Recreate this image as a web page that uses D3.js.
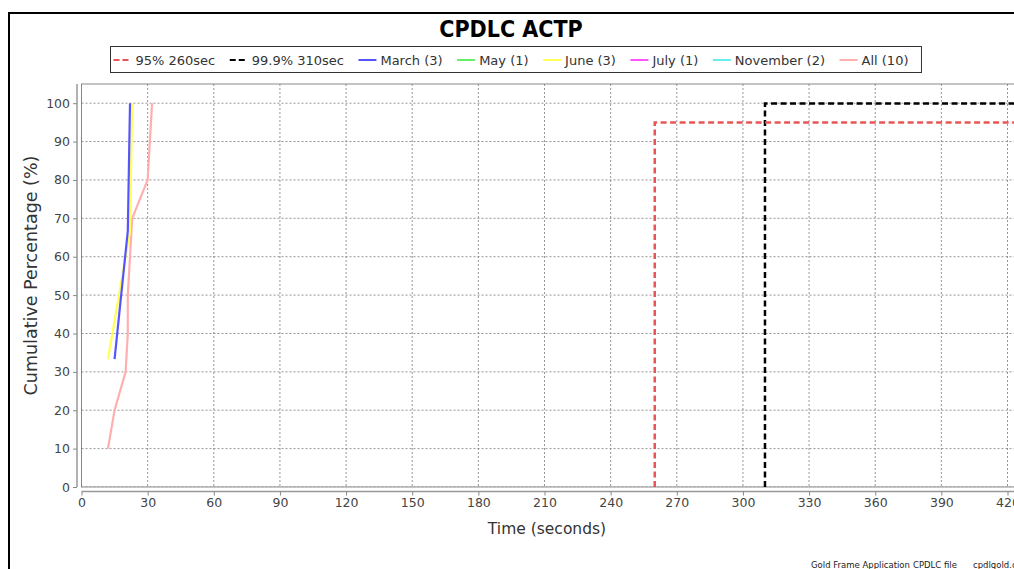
<!DOCTYPE html>
<html>
<head>
<meta charset="utf-8">
<script src="https://cdn.jsdelivr.net/npm/d3@7/dist/d3.min.js"></script>
<style>
  html, body { margin: 0; padding: 0; background: #ffffff; }
  svg { display: block; }
  text { font-family: "DejaVu Sans", sans-serif; }
</style>
</head>
<body>
<svg id="chart" width="1014" height="569"></svg>
<script>
// ---- data ----
const chartTitle = "CPDLC ACTP";
const xAxisTitle = "Time (seconds)";
const yAxisTitle = "Cumulative Percentage (%)";
const footerParts = ["Gold Frame Application", "CPDLC file", "cpdlgold.csv"];

const xTicks = [0, 30, 60, 90, 120, 150, 180, 210, 240, 270, 300, 330, 360, 390, 420];
const yTicks = [0, 10, 20, 30, 40, 50, 60, 70, 80, 90, 100];

// requirement thresholds: time limit (s) and percentage that must be met
const thresholdNames = ["95% 260sec", "99.9% 310sec"];
const thresholdTimes = [260, 310];
const thresholdPct = [95, 99.9];
const thresholdColors = ["#e85555", "#000000"];

// monthly cumulative distributions (seconds, cumulative %)
const seriesNames = ["March (3)", "May (1)", "June (3)", "July (1)", "November (2)", "All (10)"];
const seriesColors = ["#5555ff", "#66ee66", "#ffff55", "#ff55ff", "#66eeee", "#ffafaf"];
const marchTimes = [15, 21, 22];
const marchPct = [33.3, 66.7, 100];
const mayTimes = [22];
const mayPct = [100];
const juneTimes = [12, 22, 23];
const junePct = [33.3, 66.7, 100];
const julyTimes = [21];
const julyPct = [100];
const novemberTimes = [];
const novemberPct = [];
const allTimes = [12, 15, 20, 21, 21, 22, 23, 30, 31, 32];
const allPct = [10, 20, 30, 40, 50, 60, 70, 80, 90, 100];

const xMax = 430;   // horizontal extent of the axis
const yMax = 105;

// ---- layout ----
const svg = d3.select("#chart");
const W = 1014, H = 569;
const plot = { left: 81.5, top: 84, bottom: 487 };
plot.right = plot.left + xMax * (926 / 420);

const x = d3.scaleLinear().domain([0, xMax]).range([plot.left, plot.right]);
const y = d3.scaleLinear().domain([0, yMax]).range([plot.bottom, plot.top]);

// outer chart frame
svg.append("rect")
  .attr("x", 9).attr("y", 13)
  .attr("width", W + 20).attr("height", H + 20)
  .attr("fill", "#ffffff").attr("stroke", "#000").attr("stroke-width", 2);

// title
svg.append("text")
  .attr("x", 511).attr("y", 37)
  .attr("text-anchor", "middle")
  .attr("font-size", 23).attr("font-weight", "bold")
  .style("font-family", '"DejaVu Sans Condensed", "DejaVu Sans", sans-serif')
  .attr("fill", "#000")
  .text(chartTitle);

// ---- legend ----
const legendItems = [
  ...thresholdNames.map((n, i) => ({ name: n, color: thresholdColors[i], dashed: true })),
  ...seriesNames.map((n, i) => ({ name: n, color: seriesColors[i], dashed: false }))
];
const legend = svg.append("g");
const legendBox = legend.append("rect")
  .attr("fill", "#fff").attr("stroke", "#333").attr("stroke-width", 1);
let lx = 113.5;
const ly = 60;
const itemGap = 14.5;
legendItems.forEach(item => {
  legend.append("line")
    .attr("x1", lx).attr("x2", lx + 18)
    .attr("y1", ly).attr("y2", ly)
    .attr("stroke", item.color).attr("stroke-width", 2)
    .attr("stroke-dasharray", item.dashed ? "6,3" : null);
  const t = legend.append("text")
    .attr("x", lx + 22).attr("y", ly + 4.5)
    .attr("font-size", 13).attr("fill", "#333")
    .text(item.name);
  lx += 22 + t.node().getComputedTextLength() + itemGap;
});
legendBox.attr("x", 110.5).attr("y", 46.5)
  .attr("width", lx - itemGap + 13 - 110.5).attr("height", 26);

// ---- plot area ----
const clipId = "plot-clip";
svg.append("clipPath").attr("id", clipId)
  .append("rect")
  .attr("x", plot.left).attr("y", plot.top)
  .attr("width", plot.right - plot.left).attr("height", plot.bottom - plot.top);

svg.append("rect")
  .attr("x", plot.left).attr("y", plot.top)
  .attr("width", plot.right - plot.left).attr("height", plot.bottom - plot.top)
  .attr("fill", "#fff").attr("stroke", "#8a8a8a").attr("stroke-width", 1);

// grid lines
const grid = svg.append("g").attr("clip-path", `url(#${clipId})`);
grid.selectAll("line.vx").data(xTicks).join("line")
  .attr("x1", d => x(d)).attr("x2", d => x(d))
  .attr("y1", plot.top).attr("y2", plot.bottom)
  .attr("stroke", "#7a7a7a").attr("stroke-width", 0.8)
  .attr("stroke-dasharray", "2,2");
grid.selectAll("line.hy").data(yTicks).join("line")
  .attr("x1", plot.left).attr("x2", plot.right)
  .attr("y1", d => y(d)).attr("y2", d => y(d))
  .attr("stroke", "#7a7a7a").attr("stroke-width", 0.8)
  .attr("stroke-dasharray", "2,2");

// axes
const xAxis = d3.axisBottom(x).tickValues(xTicks).tickSize(4).tickPadding(3);
const yAxis = d3.axisLeft(y).tickValues(yTicks).tickSize(4).tickPadding(3);

const gx = svg.append("g")
  .attr("transform", `translate(0,${plot.bottom + 4.5})`)
  .call(xAxis);
const gy = svg.append("g")
  .attr("transform", `translate(${plot.left - 4.5},0)`)
  .call(yAxis);
[gx, gy].forEach(g => {
  g.select(".domain").attr("stroke", "#999").attr("stroke-width", 1.5);
  g.selectAll(".tick line").attr("stroke", "#888");
  g.selectAll(".tick text")
    .attr("fill", "#444").attr("font-size", 12.5)
    .style("font-family", '"DejaVu Sans", sans-serif');
});
gx.select(".domain").attr("d", `M${plot.left},0H${plot.right}`);
gy.select(".domain").attr("d", `M0,${plot.top}V${plot.bottom}`);

// axis titles
svg.append("text")
  .attr("x", 547).attr("y", 534)
  .attr("text-anchor", "middle")
  .attr("font-size", 15.5).attr("fill", "#333")
  .text(xAxisTitle);
svg.append("text")
  .attr("transform", `translate(37,${(plot.top + plot.bottom) / 2 - 10}) rotate(-90)`)
  .attr("text-anchor", "middle")
  .attr("font-size", 17.5).attr("fill", "#333")
  .text(yAxisTitle);

// ---- series ----
const line = d3.line().x(d => x(d[0])).y(d => y(d[1]));
const layer = svg.append("g").attr("clip-path", `url(#${clipId})`);

const monthly = [
  [marchTimes, marchPct], [mayTimes, mayPct], [juneTimes, junePct],
  [julyTimes, julyPct], [novemberTimes, novemberPct], [allTimes, allPct]
];
// later series are drawn first so the earlier ones sit on top
for (let i = monthly.length - 1; i >= 0; i--) {
  const [tt, pp] = monthly[i];
  const pts = tt.map((t, k) => [t, pp[k]]);
  if (pts.length < 2) continue;
  layer.append("path")
    .attr("d", line(pts))
    .attr("fill", "none")
    .attr("stroke", seriesColors[i])
    .attr("stroke-width", 2.2)
    .attr("stroke-linejoin", "round");
}

// threshold step lines: rise at the time limit, then hold the percentage
for (let i = thresholdTimes.length - 1; i >= 0; i--) {
  const pts = [[thresholdTimes[i], 0], [thresholdTimes[i], thresholdPct[i]], [xMax, thresholdPct[i]]];
  layer.append("path")
    .attr("d", line(pts))
    .attr("fill", "none")
    .attr("stroke", thresholdColors[i])
    .attr("stroke-width", 2.5)
    .attr("stroke-dasharray", "6,3.5");
}

// footer
const footerX = [811, 913, 973];
footerParts.forEach((s, i) => {
  svg.append("text")
    .attr("x", footerX[i]).attr("y", 568)
    .attr("font-size", 8.5).attr("fill", "#222")
    .text(s);
});
</script>
</body>
</html>
